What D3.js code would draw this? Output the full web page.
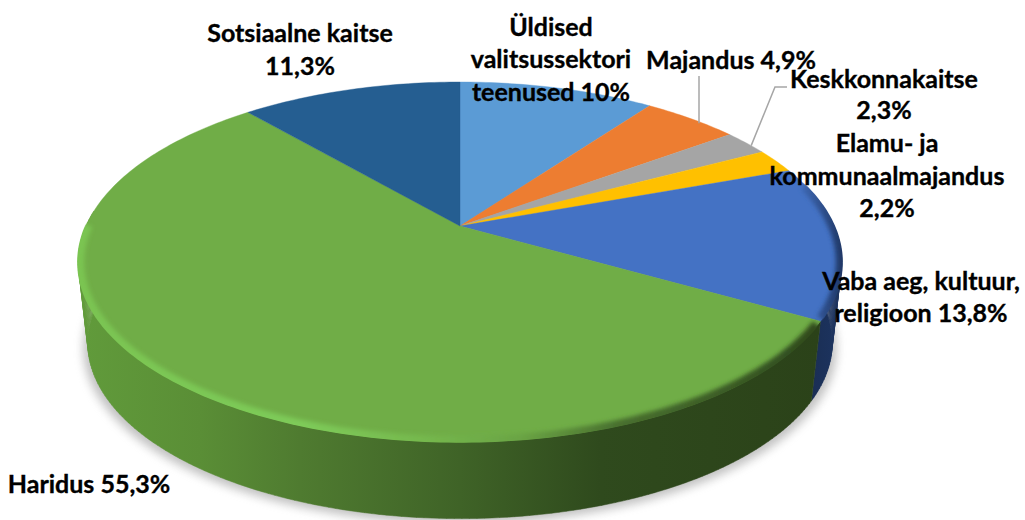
<!DOCTYPE html>
<html>
<head>
<meta charset="utf-8">
<script src="https://cdn.jsdelivr.net/npm/d3@7"></script>
<style>
  html, body { margin: 0; padding: 0; background: #fff; }
  svg { display: block; }
  .chartLabel { font-family: Lato, "Open Sans", sans-serif; font-weight: 700; font-size: 25px; fill: #000; stroke: #000; stroke-width: 0.35px; text-anchor: middle; }
</style>
</head>
<body>
<div id="chart"></div>
<script>
// Chart Data
const categories = ["Üldised valitsussektori teenused", "Majandus", "Keskkonnakaitse", "Elamu- ja kommunaalmajandus", "Vaba aeg, kultuur, religioon", "Haridus", "Sotsiaalne kaitse"];
const shares = [10, 4.9, 2.3, 2.2, 13.8, 55.3, 11.3];
const shareLabels = ["10%", "4,9%", "2,3%", "2,2%", "13,8%", "55,3%", "11,3%"];
const topColours = ["#5b9bd5", "#ed7d31", "#a5a5a5", "#ffc000", "#4472c4", "#70ad47", "#255e91"];

// Label Text Lines
const labelLines = [
  ["Üldised", "valitsussektori", "teenused 10%"],
  ["Majandus 4,9%"],
  ["Keskkonnakaitse", "2,3%"],
  ["Elamu- ja", "kommunaalmajandus", "2,2%"],
  ["Vaba aeg, kultuur,", "religioon 13,8%"],
  ["Haridus 55,3%"],
  ["Sotsiaalne kaitse", "11,3%"]
];

// Label Placement [centre x, baseline y of each line]
const labelPlaces = [
  [551, [36, 68, 101]],
  [731, [69]],
  [884, [88, 119]],
  [887, [152, 185, 217]],
  [921, [290, 322]],
  [89, [493]],
  [300, [42, 75]]
];

// Specifying Chart Dimensions
const w = 1025, h = 520;
const apexX = 460, apexY = 226;   // slice tip on the tilted top face
const radiusX = 374, radiusY = 172.8, perspective = 0.2;
const depth = 82, bottomScale = 0.975;

// Tilted Circle Projection (angle clockwise from top)
function topPoint(a) {
  let u = Math.sin(a), v = -Math.cos(a), d = 1 - perspective * v;
  return [apexX + radiusX * u / d, apexY + radiusY * v / d];
}
function bottomPoint(a) {
  let p = topPoint(a);
  return [apexX + bottomScale * (p[0] - apexX), apexY + depth + bottomScale * (p[1] - apexY)];
}
function angles(a0, a1) {
  let n = Math.max(2, Math.ceil((a1 - a0) * 60));
  return d3.range(n + 1).map((i) => a0 + (a1 - a0) * i / n);
}

let line = d3.line();
let pieSlices = d3.pie().sort(null).value((d) => d)(shares);
let svg = d3.select("#chart").append("svg").attr("width", w).attr("height", h);
let defs = svg.append("defs");

// Blur Filters
defs.append("filter").attr("id", "shadowBlur").attr("x", "-10%").attr("y", "-20%").attr("width", "120%").attr("height", "140%")
  .append("feGaussianBlur").attr("stdDeviation", 5);
defs.append("filter").attr("id", "rimBlur").attr("filterUnits", "userSpaceOnUse").attr("x", 0).attr("y", 0).attr("width", w).attr("height", h)
  .append("feGaussianBlur").attr("stdDeviation", 2);

// Horizontal Gradients
function addGradient(id, stops) {
  let g = defs.append("linearGradient").attr("id", id).attr("gradientUnits", "userSpaceOnUse")
    .attr("x1", 0).attr("y1", 0).attr("x2", w).attr("y2", 0);
  stops.forEach((s) => g.append("stop").attr("offset", s[0] / w).attr("stop-color", s[1]));
}
addGradient("greenWall", [[80, "#619b3b"], [200, "#5a8e36"], [300, "#4f7b30"], [460, "#3f6327"], [600, "#2f4a1d"], [820, "#2b4219"]]);
addGradient("blueWall", [[810, "#1a2e54"], [845, "#1d3562"]]);
addGradient("greenRim", [[78, "#7ac451"], [300, "#7ecb59"], [420, "#76b94e"], [520, "#6aa444"], [620, "#486f2e"], [820, "#2f4a1d"]]);
addGradient("blueRim", [[790, "#4472c4"], [815, "#34589a"], [845, "#1d3562"]]);

const wallFill = { 4: "url(#blueWall)", 5: "url(#greenWall)" };
const rimStroke = { 4: "url(#blueRim)", 5: "url(#greenRim)" };

// Ground Shadow
svg.append("path").attr("fill", "#8f8f8f").attr("opacity", 0.55).attr("filter", "url(#shadowBlur)")
  .attr("d", line(angles(0, 2 * Math.PI).map((a) => {
    let p = bottomPoint(a);
    return [apexX + 1.012 * (p[0] - apexX), p[1] + 5];
  })) + "Z");

// Outer Wall, one narrow quad per step so the side outline stays straight
function wallPath(a0, a1) {
  let arc = angles(a0, a1);
  return d3.pairs(arc).map((s) => line([topPoint(s[0]), topPoint(s[1]), bottomPoint(s[1]), bottomPoint(s[0])]) + "Z").join("");
}
const wallFrom = 1.6, wallTo = 4.8;   // the wall turns out of sight past these angles
svg.append("g").selectAll("path").data(pieSlices.filter((d) => wallFill[d.index])).enter()
  .append("path").attr("fill", (d) => wallFill[d.index]).attr("stroke", (d) => wallFill[d.index]).attr("stroke-width", 0.5)
  .attr("d", (d) => wallPath(Math.max(d.startAngle, wallFrom), Math.min(d.endAngle, wallTo)));

// Top Face
svg.append("g").selectAll("path").data(pieSlices).enter()
  .append("path").attr("fill", (d, i) => topColours[i]).attr("stroke", (d, i) => topColours[i]).attr("stroke-width", 0.4)
  .attr("d", (d) => line([[apexX, apexY]].concat(angles(d.startAngle, d.endAngle).map(topPoint))) + "Z");

// Bevel On The Rim Of The Top Face
defs.append("clipPath").attr("id", "topClip").append("path")
  .attr("d", line(angles(0, 2 * Math.PI).map((a) => {
    let p = topPoint(a);
    return [apexX + 1.003 * (p[0] - apexX), apexY + 1.003 * (p[1] - apexY)];
  })) + "Z");
svg.append("g").attr("clip-path", "url(#topClip)").selectAll("path").data(pieSlices.filter((d) => rimStroke[d.index])).enter()
  .append("path").attr("fill", "none").attr("stroke", (d) => rimStroke[d.index]).attr("stroke-width", 12).attr("filter", "url(#rimBlur)")
  .attr("d", (d) => {
    // green bevel fades out round the back on the left side
    let a0 = d.startAngle + (d.index === 4 ? 0.1 : 0.02), a1 = d.index === 5 ? 4.72 : d.endAngle - 0.01;
    return line(angles(a0, a1).map(topPoint));
  });

// Leader Lines
const leaderColour = "#a6a6a6";
let majandus = pieSlices[1], keskkond = pieSlices[2];
let leaders = [
  [[699, 76], [699, topPoint(majandus.startAngle + 0.65 * (majandus.endAngle - majandus.startAngle))[1]]],
  [[787, 87], [775, 87], topPoint(keskkond.startAngle + 0.65 * (keskkond.endAngle - keskkond.startAngle))]
];
svg.append("g").selectAll("path").data(leaders).enter()
  .append("path").attr("fill", "none").attr("stroke", leaderColour).attr("stroke-width", 1.5).attr("d", (d) => line(d));

// Draw Labels
labelLines.forEach((lines, i) => {
  let label = svg.append("text").classed("chartLabel", true).attr("data-category", categories[i]).attr("data-value", shareLabels[i]);
  lines.forEach((t, j) => {
    label.append("tspan").attr("x", labelPlaces[i][0]).attr("y", labelPlaces[i][1][j]).text(t);
  });
});
</script>
</body>
</html>
